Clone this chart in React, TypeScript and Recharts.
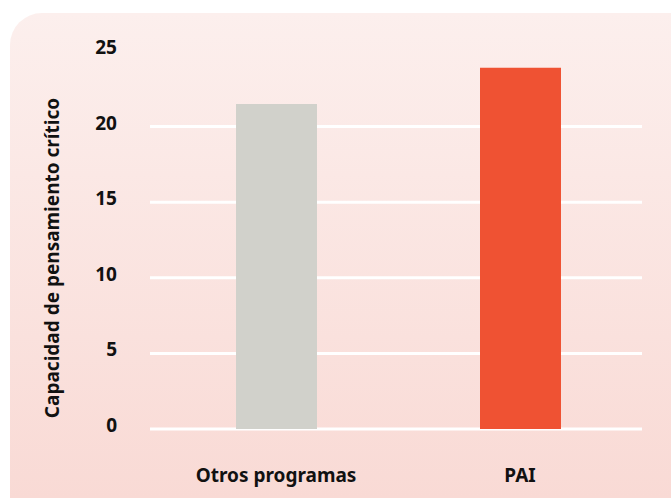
import React from "react";
import { BarChart, Bar, XAxis, YAxis, CartesianGrid, Cell, Label } from "recharts";

const categories = ["Otros programas", "PAI"];
const values = [21.5, 23.9];
const barColors = ["#d1d1cb", "#ef5233"];
const yTicks = [0, 5, 10, 15, 20, 25];
const gridValues = [0, 5, 10, 15, 20];
const yTitle = "Capacidad de pensamiento crítico";

const data = categories.map((c, i) => ({ name: c, value: values[i] }));

const FONT = "'Noto Sans', sans-serif";

const YTick = (props: any) => {
  const { x, y, payload } = props;
  return (
    <text x={x} y={y} dy={3} textAnchor="end" fontFamily={FONT} fontWeight={700} fontSize={19} fill="#111">
      {payload.value}
    </text>
  );
};

const XTick = (props: any) => {
  const { x, y, payload } = props;
  return (
    <text x={x} y={y} dy={45} textAnchor="middle" fontFamily={FONT} fontWeight={700} fontSize={19} fill="#111">
      {payload.value}
    </text>
  );
};

const YTitle = (props: any) => {
  const { viewBox } = props;
  const cx = 52;
  const cy = viewBox.y + viewBox.height / 2 + 18;
  return (
    <text
      x={cx}
      y={cy}
      transform={`rotate(-90, ${cx}, ${cy})`}
      textAnchor="middle"
      dominantBaseline="central"
      fontFamily={FONT}
      fontWeight={700}
      fontSize={19}
      fill="#111"
    >
      {yTitle}
    </text>
  );
};

export default function App() {
  return (
    <div style={{ position: "absolute", left: 0, top: 0, width: 671, height: 498, overflow: "hidden", background: "#fff" }}>
      <div
        style={{
          position: "absolute",
          left: 10,
          top: 13,
          width: 700,
          height: 520,
          borderRadius: 32,
          background: "linear-gradient(to bottom, #fcefed 0%, #f9dad5 485px)",
        }}
      />
      <div style={{ position: "absolute", left: 0, top: 0 }}>
        <BarChart width={671} height={498} data={data} margin={{ top: 51, right: 29, bottom: 39, left: 0 }} barCategoryGap={0}>
          <CartesianGrid vertical={false} horizontalValues={gridValues} stroke="#ffffff" strokeWidth={3} />
          <YAxis
            width={150}
            domain={[0, 25]}
            ticks={yTicks}
            interval={0}
            axisLine={false}
            tickLine={false}
            tickSize={0}
            tickMargin={33}
            tick={<YTick />}
          >
            <Label content={<YTitle />} />
          </YAxis>
          <XAxis dataKey="name" height={30} axisLine={false} tickLine={false} tick={<XTick />} padding={{ left: 4, right: 0 }} />
          <Bar dataKey="value" barSize={81} isAnimationActive={false}>
            {data.map((d, i) => (
              <Cell key={d.name} fill={barColors[i]} />
            ))}
          </Bar>
        </BarChart>
      </div>
    </div>
  );
}
